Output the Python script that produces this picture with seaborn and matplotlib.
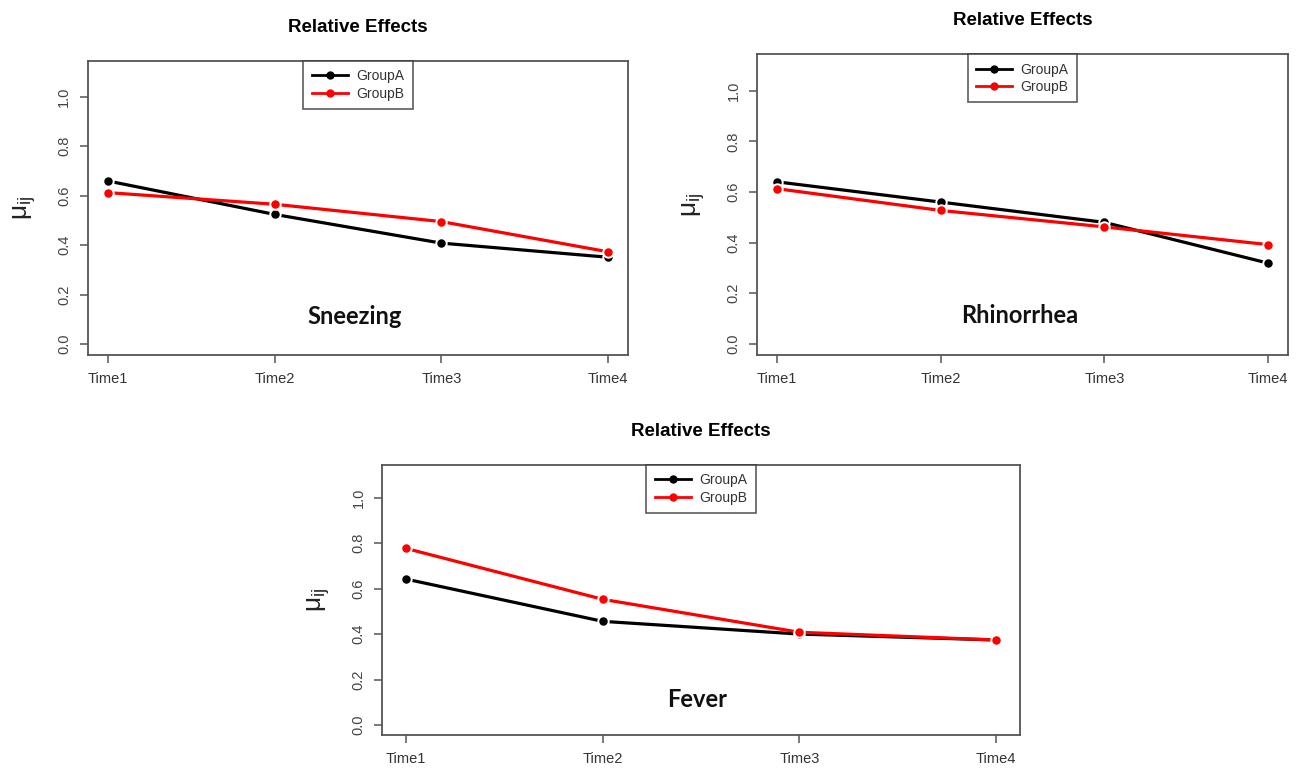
import matplotlib
matplotlib.use("Agg")
import matplotlib.pyplot as plt
import seaborn as sns
import pandas as pd

times = ["Time1", "Time2", "Time3", "Time4"]
groups = ["GroupA", "GroupB"]
sneezing_a = [0.659, 0.524, 0.408, 0.351]
sneezing_b = [0.612, 0.565, 0.495, 0.373]
rhinorrhea_a = [0.640, 0.560, 0.480, 0.319]
rhinorrhea_b = [0.613, 0.527, 0.462, 0.392]
fever_a = [0.642, 0.456, 0.400, 0.374]
fever_b = [0.777, 0.553, 0.408, 0.374]
yticks = [0.0, 0.2, 0.4, 0.6, 0.8, 1.0]
panel_names = ["Sneezing", "Rhinorrhea", "Fever"]
title = "Relative Effects"

plt.rcParams['font.family'] = ['Liberation Sans', 'DejaVu Sans']
plt.rcParams['mathtext.default'] = 'regular'

fig = plt.figure(figsize=(12.98, 7.70), dpi=100)
positions = [
    [0.0678, 0.539, 0.416, 0.3818],
    [0.5835, 0.539, 0.4085, 0.3905],
    [0.2946, 0.0455, 0.4909, 0.3506],
]
series = [(sneezing_a, sneezing_b), (rhinorrhea_a, rhinorrhea_b), (fever_a, fever_b)]
palette = {"GroupA": "#000000", "GroupB": "#ff0000"}
frame = "#555555"

for pos, (va, vb), name in zip(positions, series, panel_names):
    ax = fig.add_axes(pos)
    df = pd.DataFrame({
        "time": times + times,
        "value": va + vb,
        "group": [groups[0]] * 4 + [groups[1]] * 4,
    })
    sns.lineplot(data=df, x="time", y="value", hue="group", palette=palette,
                 marker="o", markersize=7.5, markeredgecolor="white",
                 markeredgewidth=1.4, linewidth=2.3, sort=False, ax=ax)
    ax.set_xlim(-0.12, 3.12)
    ax.set_ylim(-0.044, 1.144)
    ax.set_yticks(yticks)
    ax.set_yticklabels([f"{v:.1f}" for v in yticks], rotation=90, va="center",
                       fontsize=10.5, color="#444444")
    ax.set_xticks(range(len(times)))
    ax.set_xticklabels(times, fontsize=10.5, color="#333333")
    ax.tick_params(direction="out", length=6, width=1.1, color=frame, pad=6)
    for sp in ax.spines.values():
        sp.set_color(frame)
        sp.set_linewidth(1.3)
    ax.set_xlabel("")
    ax.set_ylabel(r"$\mu_{ij}$", fontsize=19, color="#222222", labelpad=14)
    ax.set_title(title, fontsize=13.5, fontweight="bold", pad=21)
    ax.text(1.48, 0.11, name, ha="center", va="center", fontsize=17,
            fontweight="bold", family=["Lato", "DejaVu Sans"], color="#111111")
    leg = ax.legend(loc="upper center", bbox_to_anchor=(0.5, 1.0), borderaxespad=0,
                    frameon=True, fancybox=False, fontsize=10, handlelength=2.6,
                    handletextpad=0.6, borderpad=0.6, labelspacing=0.25)
    leg.get_frame().set_edgecolor("#333333")
    leg.get_frame().set_linewidth(1.2)
    for line in leg.get_lines():
        line.set_linewidth(2.0)
        line.set_markersize(6)
        line.set_markeredgewidth(0)
    for t in leg.get_texts():
        t.set_color("#333333")

fig.savefig("out.png", dpi=100, facecolor="white")
